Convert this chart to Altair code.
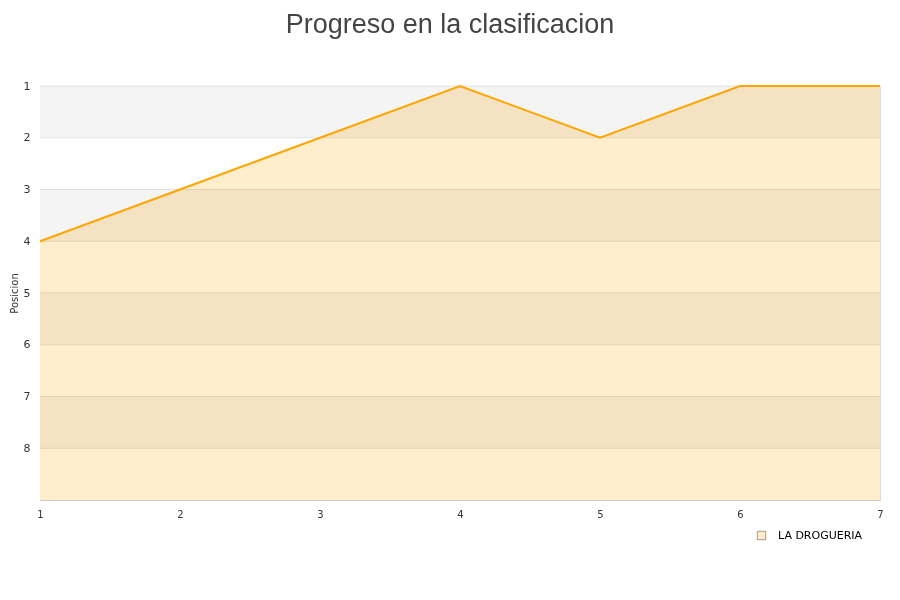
import altair as alt
import pandas as pd

jornadas = [1, 2, 3, 4, 5, 6, 7]
posiciones = [4, 3, 2, 1, 2, 1, 1]
equipo = "LA DROGUERIA"
filas = [1, 2, 3, 4, 5, 6, 7, 8]
colores_fila = ["#f4f4f4", "#ffffff", "#f4f4f4", "#ffffff", "#f4f4f4", "#ffffff", "#f4f4f4", "#ffffff"]

df = pd.DataFrame({"jornada": jornadas, "pos": posiciones, "equipo": equipo, "base": 9})
bands = pd.DataFrame({"y": filas, "y2": [f + 1 for f in filas], "c": colores_fila})

yscale = alt.Scale(domain=[1, 9], reverse=True, zero=False, nice=False)
xscale = alt.Scale(domain=[1, 7], nice=False)

bg = alt.Chart(bands).mark_rect().encode(
    y=alt.Y("y:Q", scale=yscale,
            axis=alt.Axis(values=filas, title="Posicion", grid=False,
                          ticks=False, domain=True, domainColor="#cccccc", labelPadding=10,
                          labelFontSize=11, labelColor="#333333", titleFontSize=10,
                          titleFontWeight="normal", titleColor="#333333", titlePadding=4)),
    y2="y2:Q",
    x=alt.value(0), x2=alt.value(840),
    fill=alt.Fill("c:N", scale=None, legend=None),
)

grid = alt.Chart(bands).mark_rule(color="#e2e2e2", strokeWidth=1).encode(
    y=alt.Y("y:Q", scale=yscale),
    x=alt.value(0), x2=alt.value(840),
)

area = alt.Chart(df).mark_area(blend="multiply", interpolate="linear").encode(
    x=alt.X("jornada:Q", scale=xscale,
            axis=alt.Axis(values=jornadas, title=None, ticks=False, domain=True, domainColor="#cccccc",
                          labelPadding=9, labelFontSize=10, labelColor="#333333", grid=False,
                          labelFlush=False, format="d")),
    y=alt.Y("pos:Q", scale=yscale),
    y2="base:Q",
    color=alt.Color("equipo:N", scale=alt.Scale(domain=[equipo], range=["#ffedcc"]),
                    legend=alt.Legend(title=None, orient="none", legendX=716, legendY=444,
                                      symbolType="square", symbolSize=70,
                                      symbolStrokeColor="#9a8060", symbolStrokeWidth=0.8,
                                      labelOffset=11, labelFontSize=11, labelColor="#000000")),
)

line = alt.Chart(df).mark_line(color="#ffa500", strokeWidth=2).encode(
    x=alt.X("jornada:Q", scale=xscale),
    y=alt.Y("pos:Q", scale=yscale),
)

chart = alt.layer(bg, grid, area, line).resolve_scale(fill="independent").properties(
    width=840, height=414,
    autosize=alt.AutoSizeParams(type="none"),
    padding={"left": 32, "top": 78, "right": 12, "bottom": 70},
    title=alt.Title("Progreso en la clasificacion", fontSize=27, fontWeight="normal",
                    color="#444444", anchor="middle", offset=41, dx=-10, font="Liberation Sans"),
).configure_view(stroke="#dddddd").configure_axis(labelFont="DejaVu Sans", titleFont="DejaVu Sans").configure_legend(labelFont="DejaVu Sans")

chart.save("out.html", embed_options={"renderer": "svg", "actions": False})
